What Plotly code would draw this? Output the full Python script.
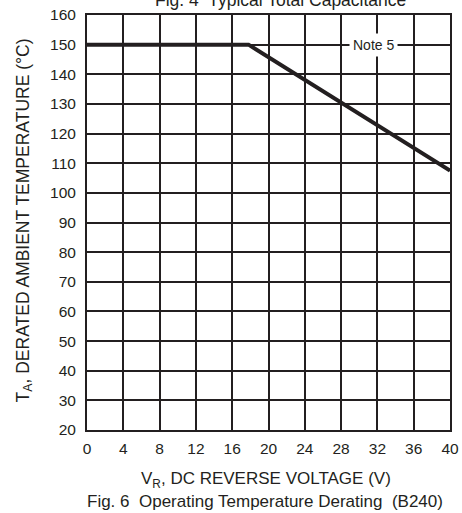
import plotly.graph_objects as go

voltage = [0, 17.8, 40]
temperature = [150, 150, 107.5]
x_ticks = [0, 4, 8, 12, 16, 20, 24, 28, 32, 36, 40]
y_ticks = [20, 30, 40, 50, 60, 70, 80, 90, 100, 110, 120, 130, 140, 150, 160]

INK = "#231f20"
FONT = "Liberation Sans, Arial, sans-serif"

fig = go.Figure()
fig.add_trace(go.Scatter(x=voltage, y=temperature, mode="lines",
                         line=dict(color=INK, width=4), cliponaxis=False,
                         showlegend=False, hoverinfo="skip"))

fig.add_annotation(x=31.6, y=150, xref="x", yref="y", text="Note 5", showarrow=False,
                   font=dict(family=FONT, size=14, color=INK), bgcolor="white", borderpad=3)

fig.add_annotation(x=0.532, y=1, xref="paper", yref="paper", yanchor="bottom", yshift=3,
                   text="Fig. 4\u00a0 Typical Total Capacitance", showarrow=False,
                   font=dict(family=FONT, size=17.5, color=INK))

fig.add_annotation(x=0.494, y=-0.121, xref="paper", yref="paper", yanchor="middle",
                   text="V<sub>R</sub>, DC REVERSE VOLTAGE (V)", showarrow=False,
                   font=dict(family=FONT, size=17, color=INK))

fig.add_annotation(x=-0.172, y=0.504, xref="paper", yref="paper", xanchor="center",
                   yanchor="middle", textangle=-90,
                   text="T<sub>A</sub>, DERATED AMBIENT TEMPERATURE (°C)", showarrow=False,
                   font=dict(family=FONT, size=17.5, color=INK))

fig.add_annotation(x=0.49, y=-0.173, xref="paper", yref="paper", yanchor="middle",
                   text="Fig. 6\u00a0 Operating Temperature Derating\u00a0 (B240)", showarrow=False,
                   font=dict(family=FONT, size=17, color=INK))

axis_common = dict(showline=True, mirror=True, linecolor=INK, linewidth=2,
                   showgrid=True, gridcolor=INK, gridwidth=2, zeroline=False,
                   automargin=False,
                   ticks="", tickfont=dict(family=FONT, size=15.5, color=INK))

fig.update_xaxes(range=[0, 40], tickvals=x_ticks, ticktext=[str(v) for v in x_ticks],
                 ticklabelstandoff=3, **axis_common)
fig.update_yaxes(range=[20, 160], tickvals=y_ticks, ticktext=[str(v) for v in y_ticks],
                 ticklabelstandoff=6, **axis_common)

fig.update_layout(width=462, height=513, margin=dict(l=87, r=12, t=15, b=83),
                  paper_bgcolor="white", plot_bgcolor="white",
                  font=dict(family=FONT, color=INK))

fig.write_html("out.html", config={"displayModeBar": False},
               post_script="document.body.style.margin='0';")
